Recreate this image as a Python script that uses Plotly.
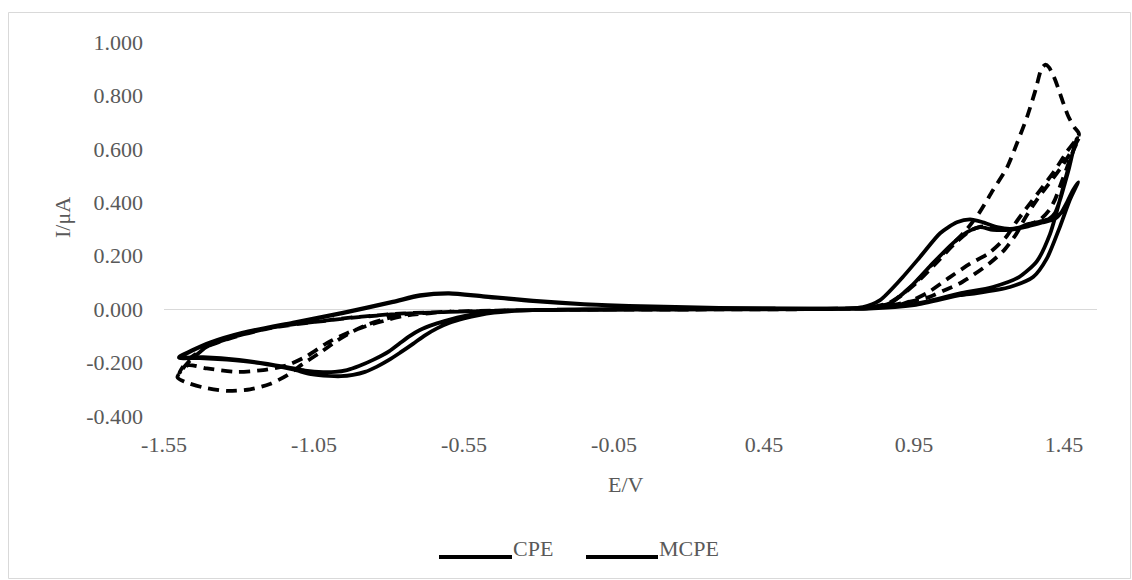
import plotly.graph_objects as go

# ---------------- data (E in V, I in µA) ----------------
cpe_c1_e = [0.3, 0.6, 0.8, 0.9, 1.0, 1.1, 1.213, 1.30, 1.36, 1.403, 1.427, 1.46, 1.493,
            1.48, 1.465, 1.45, 1.437, 1.42, 1.40, 1.37, 1.33, 1.30, 1.27, 1.227, 1.18, 1.137, 1.093,
            1.037, 0.97, 0.903, 0.837, 0.78, 0.6, 0.3, 0.0, -0.2, -0.32,
            -0.4, -0.45, -0.5, -0.55, -0.6, -0.64, -0.68, -0.72, -0.763, -0.8, -0.84, -0.88, -0.92,
            -0.96, -1.0, -1.06, -1.12, -1.23, -1.34, -1.43, -1.5,
            -1.46, -1.397, -1.287, -1.12, -0.953, -0.787, -0.697, -0.6, -0.487, -0.32, -0.15, 0.0]
cpe_c1_i = [0.005, 0.002, 0.003, 0.01, 0.03, 0.058, 0.083, 0.12, 0.18, 0.28, 0.37, 0.51, 0.64,
            0.59, 0.52, 0.46, 0.41, 0.36, 0.338, 0.328, 0.318, 0.305, 0.30, 0.307, 0.325, 0.336, 0.325,
            0.284, 0.195, 0.108, 0.034, 0.008, 0.001, 0.0, -0.001, -0.002, -0.004,
            -0.008, -0.013, -0.022, -0.035, -0.052, -0.072, -0.098, -0.13, -0.163, -0.19, -0.215, -0.235, -0.246,
            -0.251, -0.25, -0.243, -0.226, -0.202, -0.189, -0.183, -0.182,
            -0.158, -0.127, -0.09, -0.052, -0.015, 0.026, 0.05, 0.058, 0.047, 0.03, 0.018, 0.012]

cpe_c2_e = [0.3, 0.6, 0.8, 0.95, 1.103, 1.16, 1.27, 1.347, 1.393, 1.437, 1.47, 1.497,
            1.48, 1.46, 1.44, 1.42, 1.38, 1.33, 1.27, 1.213, 1.17, 1.127, 1.08, 1.013, 0.937, 0.87,
            0.8, 0.6, 0.3, 0.0, -0.2, -0.32,
            -0.4, -0.45, -0.5, -0.55, -0.6, -0.65, -0.697, -0.73, -0.763, -0.8, -0.853, -0.9, -0.94,
            -0.98, -1.02, -1.08, -1.15, -1.3, -1.42, -1.5,
            -1.46, -1.397, -1.287, -1.12, -0.953, -0.787, -0.697, -0.6, -0.487, -0.32, -0.15, 0.0, 0.3]
cpe_c2_i = [0.004, 0.001, 0.002, 0.015, 0.052, 0.06, 0.083, 0.12, 0.19, 0.31, 0.41, 0.475,
            0.445, 0.40, 0.36, 0.338, 0.325, 0.31, 0.297, 0.297, 0.307, 0.288, 0.247, 0.172, 0.082, 0.022,
            0.005, 0.0, -0.001, -0.002, -0.003, -0.004,
            -0.006, -0.01, -0.016, -0.026, -0.04, -0.057, -0.078, -0.1, -0.127, -0.158, -0.19, -0.213, -0.228,
            -0.235, -0.236, -0.23, -0.215, -0.19, -0.18, -0.18,
            -0.156, -0.125, -0.088, -0.05, -0.013, 0.028, 0.052, 0.06, 0.049, 0.032, 0.019, 0.012, 0.005]

mcpe_c1_e = [0.3, 0.6, 0.8, 0.913, 0.993, 1.07, 1.137, 1.2, 1.257, 1.29, 1.323, 1.367, 1.42, 1.46, 1.5,
             1.485, 1.465, 1.445, 1.42, 1.40, 1.388, 1.375, 1.355, 1.327, 1.293, 1.26, 1.213, 1.17,
             1.127, 1.08, 1.013, 0.937, 0.87, 0.8, 0.6, 0.3, 0.0, -0.3, -0.6,
             -0.75, -0.807, -0.873, -0.92, -0.973, -1.03, -1.087, -1.14, -1.197, -1.263, -1.34, -1.42,
             -1.48, -1.505,
             -1.47, -1.43, -1.4, -1.3, -1.2, -1.12, -1.007, -0.92, -0.84, -0.75, -0.6, -0.3, 0.0]
mcpe_c1_i = [0.003, 0.002, 0.005, 0.02, 0.06, 0.12, 0.17, 0.21, 0.27, 0.325, 0.375, 0.44, 0.52, 0.59, 0.655,
             0.68, 0.72, 0.78, 0.86, 0.905, 0.915, 0.9, 0.82, 0.72, 0.62, 0.53, 0.445, 0.365,
             0.3, 0.245, 0.17, 0.08, 0.025, 0.006, 0.001, 0.0, -0.001, -0.003, -0.01,
             -0.02, -0.035, -0.058, -0.083, -0.118, -0.163, -0.205, -0.248, -0.28, -0.3, -0.306, -0.293,
             -0.272, -0.255,
             -0.2, -0.16, -0.137, -0.099, -0.072, -0.058, -0.043, -0.032, -0.024, -0.017, -0.01, -0.003, 0.0]

mcpe_c2_e = [0.3, 0.6, 0.8, 0.9, 1.0, 1.05, 1.1, 1.15, 1.2, 1.25, 1.29, 1.32, 1.36, 1.40, 1.44, 1.48, 1.5,
             1.48, 1.46, 1.44, 1.42, 1.40, 1.37, 1.33, 1.28, 1.23, 1.18, 1.14, 1.09, 1.03, 0.96, 0.9,
             0.85, 0.8, 0.6, 0.3, 0.0, -0.3, -0.6,
             -0.75, -0.807, -0.873, -0.94, -1.007, -1.077, -1.14, -1.22, -1.307, -1.407, -1.47, -1.5,
             -1.47, -1.43, -1.4, -1.3, -1.2, -1.12, -1.007, -0.92, -0.84, -0.75, -0.6, -0.3, 0.0, 0.3]
mcpe_c2_i = [0.003, 0.002, 0.004, 0.02, 0.045, 0.07, 0.095, 0.13, 0.17, 0.22, 0.28, 0.34, 0.41, 0.47, 0.53, 0.6, 0.64,
             0.59, 0.53, 0.47, 0.41, 0.37, 0.335, 0.315, 0.30, 0.30, 0.31, 0.295, 0.25, 0.18, 0.1, 0.045,
             0.015, 0.004, 0.0, -0.001, -0.002, -0.003, -0.01,
             -0.025, -0.041, -0.062, -0.09, -0.127, -0.178, -0.21, -0.228, -0.235, -0.222, -0.21, -0.24,
             -0.19, -0.158, -0.136, -0.098, -0.071, -0.057, -0.042, -0.031, -0.023, -0.016, -0.01, -0.003, 0.0, 0.003]

series_names = ["CPE", "MCPE"]
y_tickvals = [-0.4, -0.2, 0.0, 0.2, 0.4, 0.6, 0.8, 1.0]
y_ticktext = ["-0.400", "-0.200", "0.000", "0.200", "0.400", "0.600", "0.800", "1.000"]
x_tickvals = [-1.55, -1.05, -0.55, -0.05, 0.45, 0.95, 1.45]
x_ticktext = ["-1.55", "-1.05", "-0.55", "-0.05", "0.45", "0.95", "1.45"]
x_range = [-1.55, 1.56]
y_range = [-0.4, 1.0]

# ---------------- layout helpers (pixel -> paper) ----------------
W, H = 1132, 580
L, R, T, B = 164, 1097, 42, 416


def px(x):
    return (x - L) / (R - L)


def py(y):
    return (B - y) / (B - T)


FONT = "Liberation Serif, Times New Roman, serif"
GREY = "#595959"
FS = 22

fig = go.Figure()
fig.add_trace(go.Scatter(
    x=cpe_c1_e + cpe_c2_e, y=cpe_c1_i + cpe_c2_i, mode="lines", name=series_names[0],
    line=dict(color="black", width=3.8, shape="spline", smoothing=0.7), showlegend=False))
fig.add_trace(go.Scatter(
    x=mcpe_c1_e + mcpe_c2_e, y=mcpe_c1_i + mcpe_c2_i, mode="lines", name=series_names[1],
    line=dict(color="black", width=3.8, dash="11px,7px", shape="spline", smoothing=0.7),
    showlegend=False))

shapes = [
    # chart border
    dict(type="rect", xref="paper", yref="paper", x0=px(8.5), x1=px(1130.5), y0=py(578.5), y1=py(12.5),
         line=dict(color="#d9d9d9", width=1), fillcolor="rgba(0,0,0,0)", layer="below"),
    # legend samples
    dict(type="line", xref="paper", yref="paper", x0=px(439), x1=px(512), y0=py(557), y1=py(557),
         line=dict(color="black", width=4)),
    dict(type="line", xref="paper", yref="paper", x0=px(586), x1=px(658), y0=py(557), y1=py(557),
         line=dict(color="black", width=4)),
]

annotations = [
    dict(text="E/V", xref="paper", yref="paper", x=px(626), y=py(484), showarrow=False,
         xanchor="center", yanchor="middle", font=dict(family=FONT, size=FS, color=GREY)),
    dict(text="I/μA", xref="paper", yref="paper", x=px(62), y=py(218), showarrow=False, textangle=-90,
         xanchor="center", yanchor="middle", font=dict(family=FONT, size=FS, color=GREY)),
    dict(text=series_names[0], xref="paper", yref="paper", x=px(511), y=py(548), showarrow=False,
         xanchor="left", yanchor="middle", font=dict(family=FONT, size=FS, color=GREY)),
    dict(text=series_names[1], xref="paper", yref="paper", x=px(657), y=py(548), showarrow=False,
         xanchor="left", yanchor="middle", font=dict(family=FONT, size=FS, color=GREY)),
]

fig.update_layout(
    width=W, height=H,
    margin=dict(l=L, r=W - R, t=T, b=H - B, pad=0),
    paper_bgcolor="white", plot_bgcolor="white",
    font=dict(family=FONT, size=FS, color=GREY),
    showlegend=False,
    shapes=shapes, annotations=annotations,
    xaxis=dict(range=x_range, tickmode="array", tickvals=x_tickvals, ticktext=x_ticktext,
               showgrid=False, zeroline=False, showline=False, ticks="",
               ticklabelstandoff=13, tickfont=dict(family=FONT, size=FS, color=GREY)),
    yaxis=dict(range=y_range, tickmode="array", tickvals=y_tickvals, ticktext=y_ticktext,
               showgrid=False, zeroline=True, zerolinecolor="#d9d9d9", zerolinewidth=1.3,
               showline=False, ticks="", ticklabelstandoff=20,
               tickfont=dict(family=FONT, size=FS, color=GREY)),
)

fig.write_html("out.html")
